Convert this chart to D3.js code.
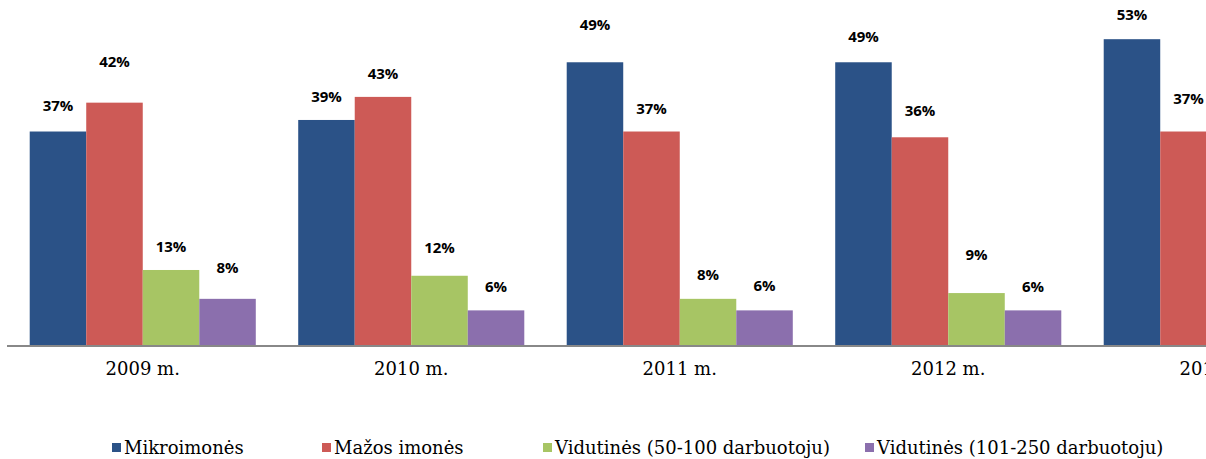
<!DOCTYPE html>
<html>
  <head>
    <meta charset="utf-8">
    <title>Imonės pagal dydį</title>
    <script src="https://cdn.jsdelivr.net/npm/d3@7"></script>
    <style>
      body { margin: 0; background: #fff; }
      .val { font-family: "Open Sans", sans-serif; font-weight: bold; font-size: 15px; fill: #000; }
      .cat, .leg { font-family: "DejaVu Serif", serif; font-size: 18px; fill: #000; }
    </style>
  </head>
  <body>
    <script>

// data
var years = ["2009 m.", "2010 m.", "2011 m.", "2012 m.", "2013 m."];
var mikro = [37, 39, 49, 49, 53];
var mazos = [42, 43, 37, 36, 37];
var vid50 = [13, 12, 8, 9, 6];
var vid101 = [8, 6, 6, 6, 4];
var seriesNames = ["Mikroimonės", "Mažos imonės", "Vidutinės (50-100 darbuotoju)", "Vidutinės (101-250 darbuotoju)"];

// how far above each bar its label sits (the labels were nudged by hand)
var labelLift = [
  [26, 23, 37, 25, 24],
  [41, 23, 23, 26, 33],
  [23, 28, 24, 38, 24],
  [31, 23, 24, 23, 24]
];

// where each legend entry starts
var legendX = [112, 322, 543, 865];

var colors = ["#2B5287", "#CD5A56", "#A7C564", "#8B6FAD"];

var w = 1206;
var h = 459;
var base = 345;

var series = [mikro, mazos, vid50, vid101];

var svg = d3.select("body")
  .append("svg")
  .attr("width", w)
  .attr("height", h);

var x0 = d3.scaleBand()
  .domain(years)
  .range([8.5, 1351])
  .paddingInner(0.158)
  .paddingOuter(0.079);

var x1 = d3.scaleBand()
  .domain(d3.range(series.length))
  .range([0, x0.bandwidth()]);

var y = d3.scaleLinear()
  .domain([0, 60])
  .range([base, base - 60 * 5.77]);

// bars
var groups = svg.selectAll("g.year")
  .data(years)
  .enter()
  .append("g")
  .attr("class", "year")
  .attr("transform", function(d){ return "translate(" + x0(d) + ",0)"; });

groups.selectAll("rect")
  .data(function(d, i){
    return series.map(function(s, k){ return {k: k, i: i, v: s[i]}; });
  })
  .enter()
  .append("rect")
  .attr("x", function(d){ return x1(d.k); })
  .attr("width", x1.bandwidth())
  .attr("y", function(d){ return y(d.v); })
  .attr("height", function(d){ return y(0) - y(d.v); })
  .attr("fill", function(d){ return colors[d.k]; });

groups.selectAll("text.val")
  .data(function(d, i){
    return series.map(function(s, k){ return {k: k, i: i, v: s[i]}; });
  })
  .enter()
  .append("text")
  .attr("class", "val")
  .attr("text-anchor", "middle")
  .attr("x", function(d){ return x1(d.k) + x1.bandwidth() / 2; })
  .attr("y", function(d){ return y(d.v) - labelLift[d.k][d.i] + 5; })
  .text(function(d){ return d.v + "%"; });

// axis line and category labels
var xAxis = d3.axisBottom(x0).tickSize(0).tickPadding(16);
var ax = svg.append("g")
  .attr("transform", "translate(0," + (base + 1) + ")")
  .call(xAxis);
ax.select(".domain").attr("stroke", "#888").attr("stroke-width", 2).attr("d", "M7,0H" + w);
ax.selectAll("text").attr("class", "cat").attr("font-family", null).attr("font-size", null);

// legend
var leg = svg.append("g");
seriesNames.forEach(function(name, k){
  leg.append("rect")
    .attr("x", legendX[k]).attr("y", 443)
    .attr("width", 9).attr("height", 9)
    .attr("fill", colors[k]);
  leg.append("text")
    .attr("class", "leg")
    .attr("x", legendX[k] + 12)
    .attr("y", 454)
    .text(name);
});

    </script>
  </body>
</html>
